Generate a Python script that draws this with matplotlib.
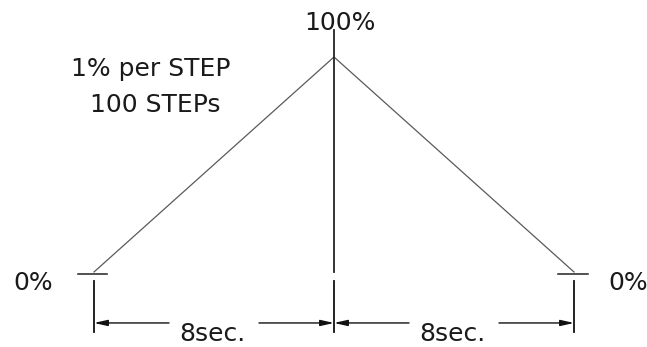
import matplotlib
matplotlib.use("Agg")
from matplotlib import pyplot as plt

# ramp profile: time (s) vs level (%)
times = [0, 8, 16]
levels = [0, 100, 0]
span_labels = ["8sec.", "8sec."]
level_labels = ["0%", "100%", "0%"]
note_lines = ["1% per STEP", "100 STEPs"]

plt.rcParams["font.family"] = ["DejaVu Sans"]
txt = "#1a1a1a"
fs = 18

fig = plt.figure(figsize=(6.47, 3.47), dpi=100)
ax = fig.add_axes([0, 0, 1, 1])
ax.set_xlim(-3.133, 18.433)
ax.set_ylim(-34.88, 126.51)
ax.axis("off")

# the ramp itself
ax.plot(times, levels, color="#5a5a5a", lw=0.9)

# centre line up through the peak, and the ticks at the ends
ax.plot([times[1], times[1]], [levels[0], levels[1] + 12.6], color="#222222", lw=1.3)
for t in (times[0], times[2]):
    ax.plot([t - 0.53, t + 0.45], [levels[0] - 1, levels[0] - 1], color="#222222", lw=1.1)

# extension lines for the dimensions
for t in times:
    ax.plot([t, t], [-4.2, -27.9], color="#111111", lw=1.3)

# dimension lines with arrows and labels
dim_y = -23.7
gap = 1.5
for i in range(2):
    a, b = times[i], times[i + 1]
    mid = (a + b) / 2
    for start, end in ((mid - gap, a), (mid + gap, b)):
        ax.annotate("", xy=(end, dim_y), xytext=(start, dim_y),
                    arrowprops=dict(arrowstyle="-|>,head_length=0.8,head_width=0.18",
                                    color="#111111", lw=1.0, shrinkA=0, shrinkB=0))
    ax.text(mid - 0.05, dim_y - 8.4, span_labels[i], ha="center", va="baseline",
            fontsize=fs, color=txt)

# level labels
ax.text(times[0] - 2.03, levels[0] - 8.4, level_labels[0], ha="center", va="baseline",
        fontsize=fs, color=txt)
ax.text(times[1] + 0.2, levels[1] + 12.6, level_labels[1], ha="center", va="baseline",
        fontsize=fs, color=txt)
ax.text(times[2] + 1.8, levels[2] - 8.4, level_labels[2], ha="center", va="baseline",
        fontsize=fs, color=txt)

# note
ax.text(1.9, 91.0, note_lines[0], ha="center", va="baseline", fontsize=fs, color=txt)
ax.text(2.03, 74.5, note_lines[1], ha="center", va="baseline", fontsize=fs, color=txt)

fig.savefig("out.png", dpi=100)
